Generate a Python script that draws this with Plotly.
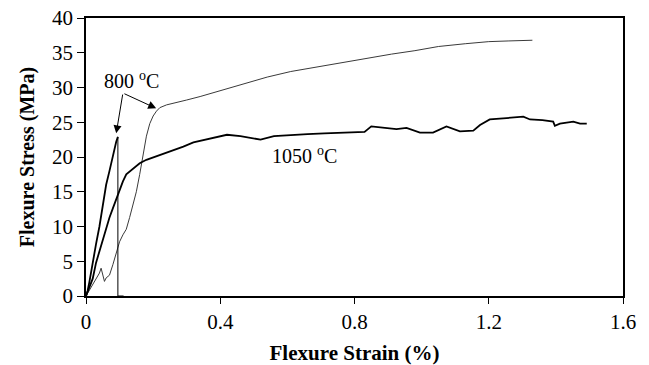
import plotly.graph_objects as go

# 800 °C specimen with brittle failure (steep curve)
strain_800a = [0, 0.005, 0.01, 0.015, 0.02, 0.03, 0.04, 0.05, 0.06, 0.07, 0.08, 0.09, 0.095]
stress_800a = [0, 0.8, 2.0, 3.5, 4.6, 7.5, 10.0, 13.2, 16.0, 18.0, 20.2, 22.2, 22.9]
drop_strain_end = 0.112

# 1050 °C specimen
strain_1050 = [0, 0.01, 0.02, 0.03, 0.04, 0.05, 0.06, 0.07, 0.08, 0.09, 0.1, 0.11, 0.12, 0.14, 0.16,
               0.18, 0.21, 0.24, 0.26, 0.29, 0.32, 0.36, 0.4, 0.42, 0.46, 0.49, 0.52, 0.56, 0.61,
               0.66, 0.71, 0.76, 0.8, 0.83, 0.85, 0.87, 0.9, 0.925, 0.955, 0.995, 1.034, 1.074,
               1.114, 1.154, 1.174, 1.203, 1.253, 1.303, 1.323, 1.36, 1.392, 1.397, 1.412, 1.452,
               1.472, 1.492]
stress_1050 = [0, 1.2, 2.5, 4.8, 6.5, 8.2, 9.8, 11.3, 12.6, 14.0, 15.2, 16.5, 17.5, 18.3, 19.1,
               19.6, 20.1, 20.6, 21.0, 21.5, 22.1, 22.5, 22.9, 23.2, 23.0, 22.7, 22.5, 23.0, 23.2,
               23.3, 23.4, 23.5, 23.6, 23.6, 24.4, 24.3, 24.2, 24.0, 24.2, 23.5, 23.5, 24.4,
               23.7, 23.8, 24.6, 25.4, 25.6, 25.8, 25.4, 25.3, 25.1, 24.5, 24.8, 25.1,
               24.8, 24.8]

# 800 °C specimen (thin curve)
strain_800b = [0, 0.01, 0.02, 0.03, 0.04, 0.045, 0.05, 0.055, 0.06, 0.07, 0.08, 0.09, 0.1, 0.11,
               0.12, 0.13, 0.14, 0.15, 0.16, 0.17, 0.18, 0.19, 0.2, 0.21, 0.22, 0.24, 0.27, 0.3,
               0.34, 0.39, 0.46, 0.54, 0.61, 0.68, 0.76, 0.83, 0.91, 0.98, 1.05, 1.13, 1.2,
               1.26, 1.33]
stress_800b = [0, 0.8, 1.5, 2.3, 3.3, 4.0, 2.8, 2.1, 2.6, 3.0, 4.5, 6.3, 7.8, 8.8,
               9.6, 11.3, 13.0, 15.0, 17.5, 20.5, 23.0, 24.8, 25.9, 26.6, 27.1, 27.5, 27.8, 28.2,
               28.7, 29.4, 30.4, 31.5, 32.3, 32.9, 33.6, 34.2, 34.8, 35.3, 35.9, 36.3, 36.6,
               36.7, 36.8]

x_ticks = [0, 0.4, 0.8, 1.2, 1.6]
x_tick_labels = ["0", "0.4", "0.8", "1.2", "1.6"]
y_ticks = [0, 5, 10, 15, 20, 25, 30, 35, 40]

FONT = "Liberation Serif, Times New Roman, serif"

fig = go.Figure()
fig.add_trace(go.Scatter(x=strain_800b, y=stress_800b, mode="lines",
                         line=dict(color="#3a3a3a", width=1), showlegend=False))
fig.add_trace(go.Scatter(x=strain_1050, y=stress_1050, mode="lines",
                         line=dict(color="black", width=1.8), showlegend=False))
fig.add_trace(go.Scatter(x=strain_800a, y=stress_800a, mode="lines",
                         line=dict(color="black", width=1.8), showlegend=False))
# failure drop of the steep 800 °C curve
fig.add_trace(go.Scatter(x=[strain_800a[-1], strain_800a[-1], drop_strain_end],
                         y=[stress_800a[-1], 0, 0], mode="lines",
                         line=dict(color="black", width=1), showlegend=False))

fig.add_annotation(x=0.136, y=31.1, text="800 <sup>o</sup>C", showarrow=False,
                   font=dict(family=FONT, size=20, color="black"))
fig.add_annotation(x=0.652, y=20.3, text="1050 <sup>o</sup>C", showarrow=False,
                   font=dict(family=FONT, size=20, color="black"))
for tx, ty in [(0.090, 23.4), (0.209, 27.0)]:
    fig.add_annotation(x=tx, y=ty, ax=0.110, ay=29.2, axref="x", ayref="y",
                       text="", showarrow=True, arrowhead=2, arrowsize=1.6,
                       arrowwidth=1, arrowcolor="black", standoff=0)

fig.update_layout(
    width=641, height=357,
    margin=dict(l=78, r=26, t=10, b=69),
    plot_bgcolor="white", paper_bgcolor="white",
    font=dict(family=FONT, color="black"),
)
fig.update_xaxes(range=[0, 1.6], tickvals=x_ticks, ticktext=x_tick_labels,
                 ticks="outside", ticklen=6, tickcolor="black", tickwidth=1,
                 showline=True, mirror=True, linecolor="black", linewidth=1.5, showgrid=False,
                 zeroline=False, automargin=False, ticklabeloverflow="allow",
                 tickfont=dict(family=FONT, size=21),
                 title=dict(text="<b>Flexure Strain (%)</b>",
                            font=dict(family=FONT, size=21, color="black"), standoff=12))
fig.update_yaxes(range=[0, 40], tickvals=y_ticks,
                 ticks="outside", ticklen=7, tickcolor="black", tickwidth=1,
                 showline=True, mirror=True, linecolor="black", linewidth=1.5, showgrid=False,
                 zeroline=False, automargin=False, ticklabeloverflow="allow",
                 tickfont=dict(family=FONT, size=21),
                 title=dict(text="<b>Flexure Stress (MPa)</b>",
                            font=dict(family=FONT, size=20, color="black"), standoff=12))

fig.write_html("out.html")
